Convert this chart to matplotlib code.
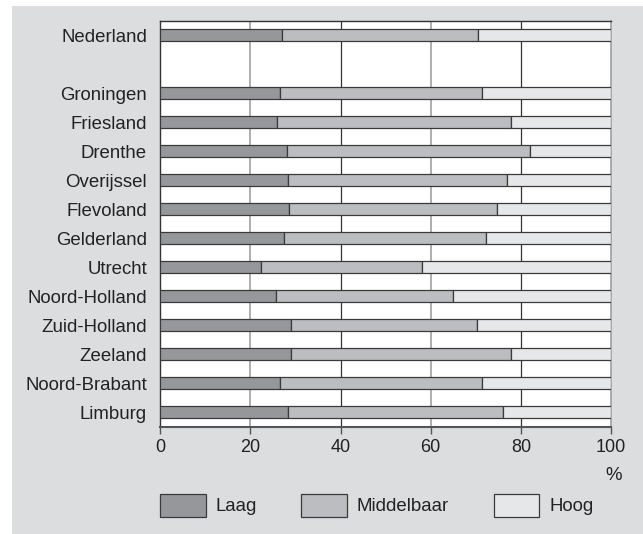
import matplotlib
matplotlib.use("Agg")
import matplotlib.pyplot as plt
import matplotlib.patches as patches
import numpy as np

plt.rcParams['font.family'] = ['Liberation Sans', 'DejaVu Sans']

regions = ['Nederland', '', 'Groningen', 'Friesland', 'Drenthe', 'Overijssel',
           'Flevoland', 'Gelderland', 'Utrecht', 'Noord-Holland', 'Zuid-Holland',
           'Zeeland', 'Noord-Brabant', 'Limburg']
laag = [26.9, 0, 26.6, 25.8, 28.2, 28.4, 28.6, 27.4, 22.3, 25.6, 28.9, 28.9, 26.6, 28.4]
middelbaar = [43.7, 0, 44.8, 52.1, 53.9, 48.6, 46.2, 44.9, 35.7, 39.3, 41.4, 49.0, 44.8, 47.6]
hoog = [29.4, 0, 28.6, 22.1, 17.9, 23.0, 25.2, 27.7, 42.0, 35.1, 29.7, 22.1, 28.6, 24.0]

series = ['Laag', 'Middelbaar', 'Hoog']
colors = ['#96979b', '#bcbdc0', '#e6e7e8']
bg = '#dcdddf'
edge = '#3a3a3a'

fig = plt.figure(figsize=(6.43, 5.34), dpi=100)
fig.patch.set_facecolor('white')
# grey panel behind everything
fig.patches.append(patches.Rectangle((12 / 643, 0), 1, 1 - 6 / 534,
                                     transform=fig.transFigure,
                                     facecolor=bg, edgecolor='none', zorder=-10))

ax = fig.add_axes([160.3 / 643, 1 - 426.7 / 534, (611 - 160.3) / 643, 406 / 534])
ax.set_facecolor('white')

y = np.arange(len(regions))
mask = np.array([r != '' for r in regions])
left = np.zeros(len(regions))
for vals, col in zip([laag, middelbaar, hoog], colors):
    vals = np.array(vals)
    ax.barh(y[mask], vals[mask], left=left[mask], height=0.4, color=col,
            edgecolor=edge, linewidth=0.9, zorder=3)
    left += vals

# vertical grid lines, alternating grey and dark
for xv in [20, 40, 60, 80]:
    ax.axvline(xv, color='#999999' if xv in (20, 60) else '#333333',
               lw=1.1 if xv in (20, 60) else 0.9, zorder=1)

ax.set_xlim(0, 100)
ax.set_ylim(13.5, -0.5)
ax.set_yticks(y[mask])
ax.set_yticklabels([r for r in regions if r != ''], fontsize=13.4, color='#222222')
ax.tick_params(axis='y', length=0, pad=9.5)
ax.set_xticks([0, 20, 40, 60, 80, 100])
ax.tick_params(axis='x', length=5, width=1, color='#555555', pad=4,
               labelsize=13, labelcolor='#222222')

for s in ['top', 'left']:
    ax.spines[s].set_color('#333333')
    ax.spines[s].set_linewidth(1)
ax.spines['right'].set_color('#999999')
ax.spines['right'].set_linewidth(1.1)
ax.spines['bottom'].set_color('#555555')
ax.spines['bottom'].set_linewidth(1.5)

fig.text(622 / 643, 1 - 476 / 534, '%', ha='right', va='center',
         fontsize=13.4, color='#222222')

# legend
legend_boxes = [160.3, 301, 493.7]
for x0, name, col in zip(legend_boxes, series, colors):
    fig.patches.append(patches.Rectangle((x0 / 643, 1 - 517.3 / 534), 45.7 / 643, 23 / 534,
                                         transform=fig.transFigure, facecolor=col,
                                         edgecolor=edge, linewidth=0.9))
    fig.text((x0 + 55.5) / 643, 1 - 506.5 / 534, name, ha='left', va='center',
             fontsize=13.4, color='#222222')

fig.savefig('out.png', dpi=100)
